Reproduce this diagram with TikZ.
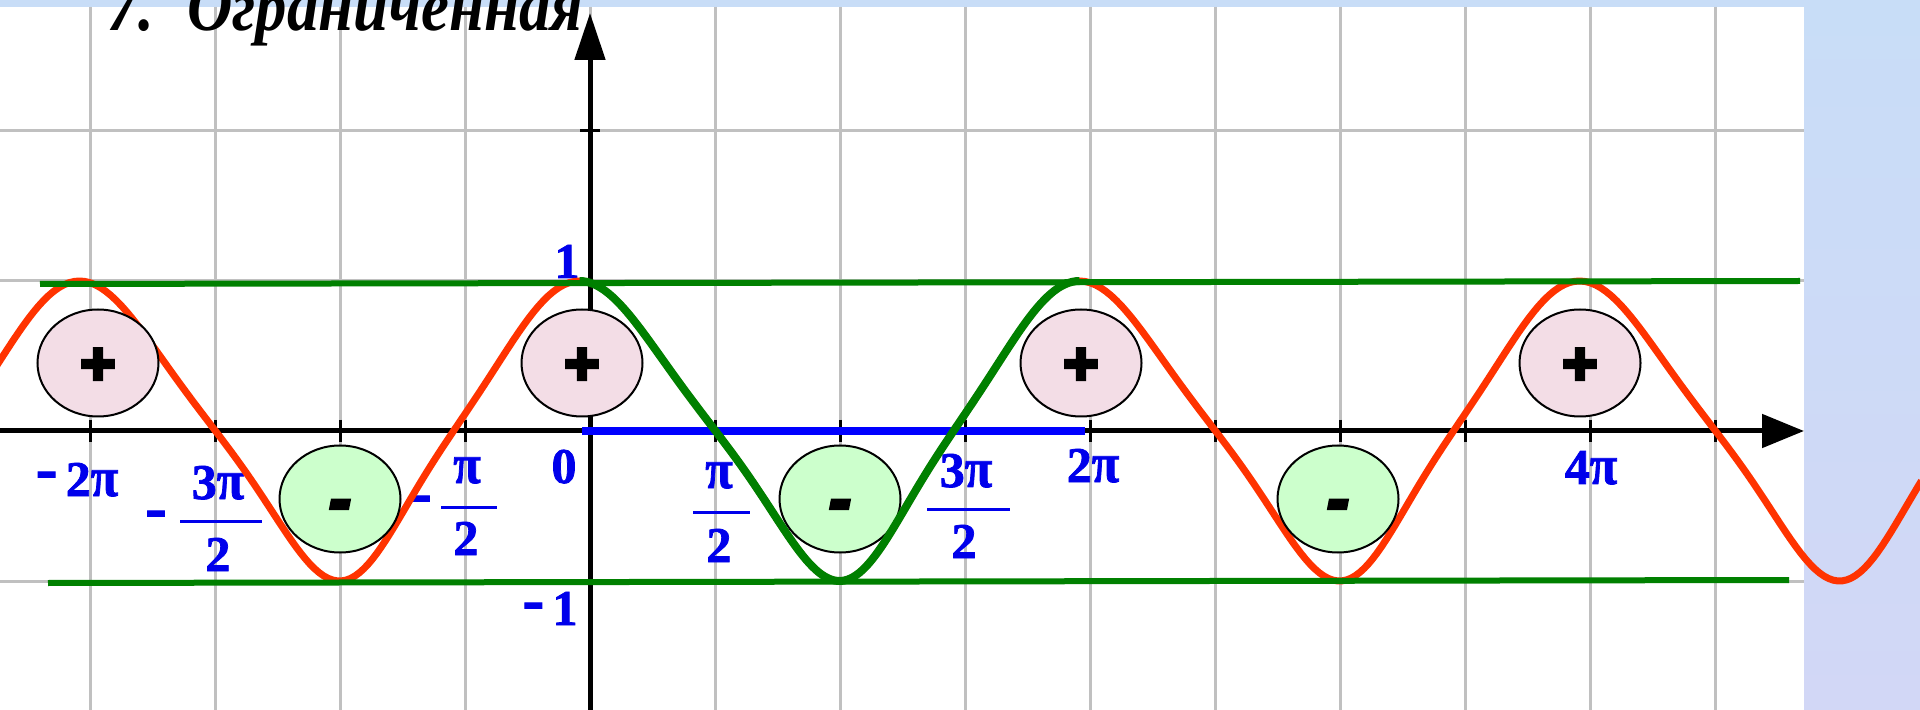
\documentclass[tikz,border=0pt]{standalone}
\usepackage{fontspec}
\usepackage{graphicx}
\setmainfont{Liberation Serif}
\newfontfamily\lblfont{Liberation Serif}[BoldFeatures={FakeBold=1.5}]
\newfontfamily\signfont{Liberation Sans}[BoldFeatures={FakeBold=6},BoldItalicFeatures={FakeBold=6}]
\usetikzlibrary{arrows.meta,shapes.geometric}
\definecolor{bgblue}{RGB}{200,221,247}
\definecolor{bglav}{RGB}{210,215,246}
\definecolor{gridc}{RGB}{192,192,192}
\definecolor{redc}{RGB}{255,51,0}
\definecolor{greenc}{RGB}{0,128,0}
\definecolor{bluec}{RGB}{0,0,255}
\definecolor{lblc}{RGB}{0,0,235}
\definecolor{pinkc}{RGB}{243,221,230}
\definecolor{mintc}{RGB}{204,255,204}
\newcommand\pis{\scalebox{1}[1.12]{π}}
\newcommand\mns{\scalebox{1.3}{-}}
\tikzset{
  gridline/.style={gridc, line width=1.5pt},
  axisline/.style={black, line width=2.5pt},
  tickmark/.style={black, line width=1.5pt},
  lab/.style={text=lblc, font=\lblfont\bfseries\fontsize{25}{25}\selectfont, inner sep=0pt, anchor=base},
  fracbar/.style={lblc, line width=1.5pt},
  bubble/.style={ellipse, draw=black, line width=1pt, minimum width=60.5pt, minimum height=53.5pt, inner sep=0pt},
  plusbub/.style={bubble, fill=pinkc, font=\signfont\bfseries\fontsize{30}{30}\selectfont},
  minusbub/.style={bubble, fill=mintc, font=\signfont\bfseries\itshape\fontsize{32}{32}\selectfont},
  redcurve/.style={redc, line width=3.5pt, line join=round},
  greencurve/.style={greenc, line width=4pt, line join=round},
  boundline/.style={greenc, line width=3pt},
  blueline/.style={bluec, line width=4pt},
}
\begin{document}
\begin{tikzpicture}[x=0.5pt, y=-0.5pt]
\useasboundingbox (0,0) rectangle (1920,710);
\clip (0,0) rectangle (1920,710);
% background
\shade[top color=bgblue, bottom color=bglav] (0,0) rectangle (1920,710);
\fill[white] (0,7) rectangle (1804,710);
% grid
\foreach \gx in {90,215,...,1715} \draw[gridline] (\gx,7) -- (\gx,710);
\foreach \gy in {131,281,581} \draw[gridline] (0,\gy) -- (1804,\gy);
% axes
\draw[axisline, -{Triangle[length=21pt,width=16.5pt]}] (0,431) -- (1804,431);
\draw[axisline, -{Triangle[length=23.5pt,width=15pt]}] (590,710) -- (590,13);
\foreach \gx in {90,215,...,1715} \draw[tickmark] (\gx,420) -- (\gx,442);
\draw[tickmark] (580,131) -- (600,131);
% labels
\node[lab] (lm2pi) at (77,496) {\raisebox{3pt}{\mns}\,2\pis};
\node[lab] (lm3pim) at (156,529) {\mns};
\node[lab] (lm3pin) at (218,499) {3\pis};
\node[lab] (lm3pid) at (218,571) {2};
\draw[fracbar] (180,521) -- (262,521);
\node[lab] (lmpim) at (421,514) {\mns};
\node[lab] (lmpin) at (467,483) {\pis};
\node[lab] (lmpid) at (466,555) {2};
\draw[fracbar] (441,507) -- (497,507);
\node[lab] (lzero) at (564,483) {0};
\node[lab] (lpin) at (719,488) {\pis};
\node[lab] (lpid) at (719,562) {2};
\draw[fracbar] (693,512) -- (750,512);
\node[lab] (l3pin) at (966,487) {3\pis};
\node[lab] (l3pid) at (964,558) {2};
\draw[fracbar] (927,509) -- (1010,509);
\node[lab] (l2pi) at (1093,482) {2\pis};
\node[lab] (l4pi) at (1591,484) {4\pis};
\node[lab] (lone) at (567,278) {1};
\node[lab] (lmone) at (550,625) {\raisebox{2pt}{\mns}\,1};
% red curve
\draw[redcurve] plot[domain=-430:965, samples=400, variable=\t]
  ({590+\t/90*125-5.5-5*cos(\t)+6*sin(\t)}, {431-150*(cos(\t)+0.07*cos(3*\t))/1.07});
% sign bubbles
\node[plusbub] (p1) at (98,363) {\raisebox{-10.5pt}[0pt][0pt]{+}};
\node[plusbub] (p2) at (582,363) {\raisebox{-10.5pt}[0pt][0pt]{+}};
\node[plusbub] (p3) at (1081,363) {\raisebox{-10.5pt}[0pt][0pt]{+}};
\node[plusbub] (p4) at (1580,363) {\raisebox{-10.5pt}[0pt][0pt]{+}};
\node[minusbub] (n1) at (340,499) {\raisebox{-11pt}[0pt][0pt]{-}};
\node[minusbub] (n2) at (840,499) {\raisebox{-11pt}[0pt][0pt]{-}};
\node[minusbub] (n3) at (1338,499) {\raisebox{-11pt}[0pt][0pt]{-}};
% blue segment
\draw[blueline] (582,431) -- (1085,431);
% green curve over one period
\draw[greencurve] plot[domain=0:360, samples=150, variable=\t]
  ({590+\t/90*125-5.5-5*cos(\t)+6*sin(\t)}, {431-150*(cos(\t)+0.07*cos(3*\t))/1.07});
% bounding lines y=1 and y=-1
\draw[boundline] (40,284) -- (1800,281);
\draw[boundline] (48,583) -- (1789,580);
% title
\node[anchor=base west, inner sep=0pt, font=\bfseries\itshape\fontsize{30.5}{30.5}\selectfont] (title) at (107,31) {\scalebox{1.03}[1.2]{7.\hspace{16pt}Ограниченная}};
\end{tikzpicture}
\end{document}
